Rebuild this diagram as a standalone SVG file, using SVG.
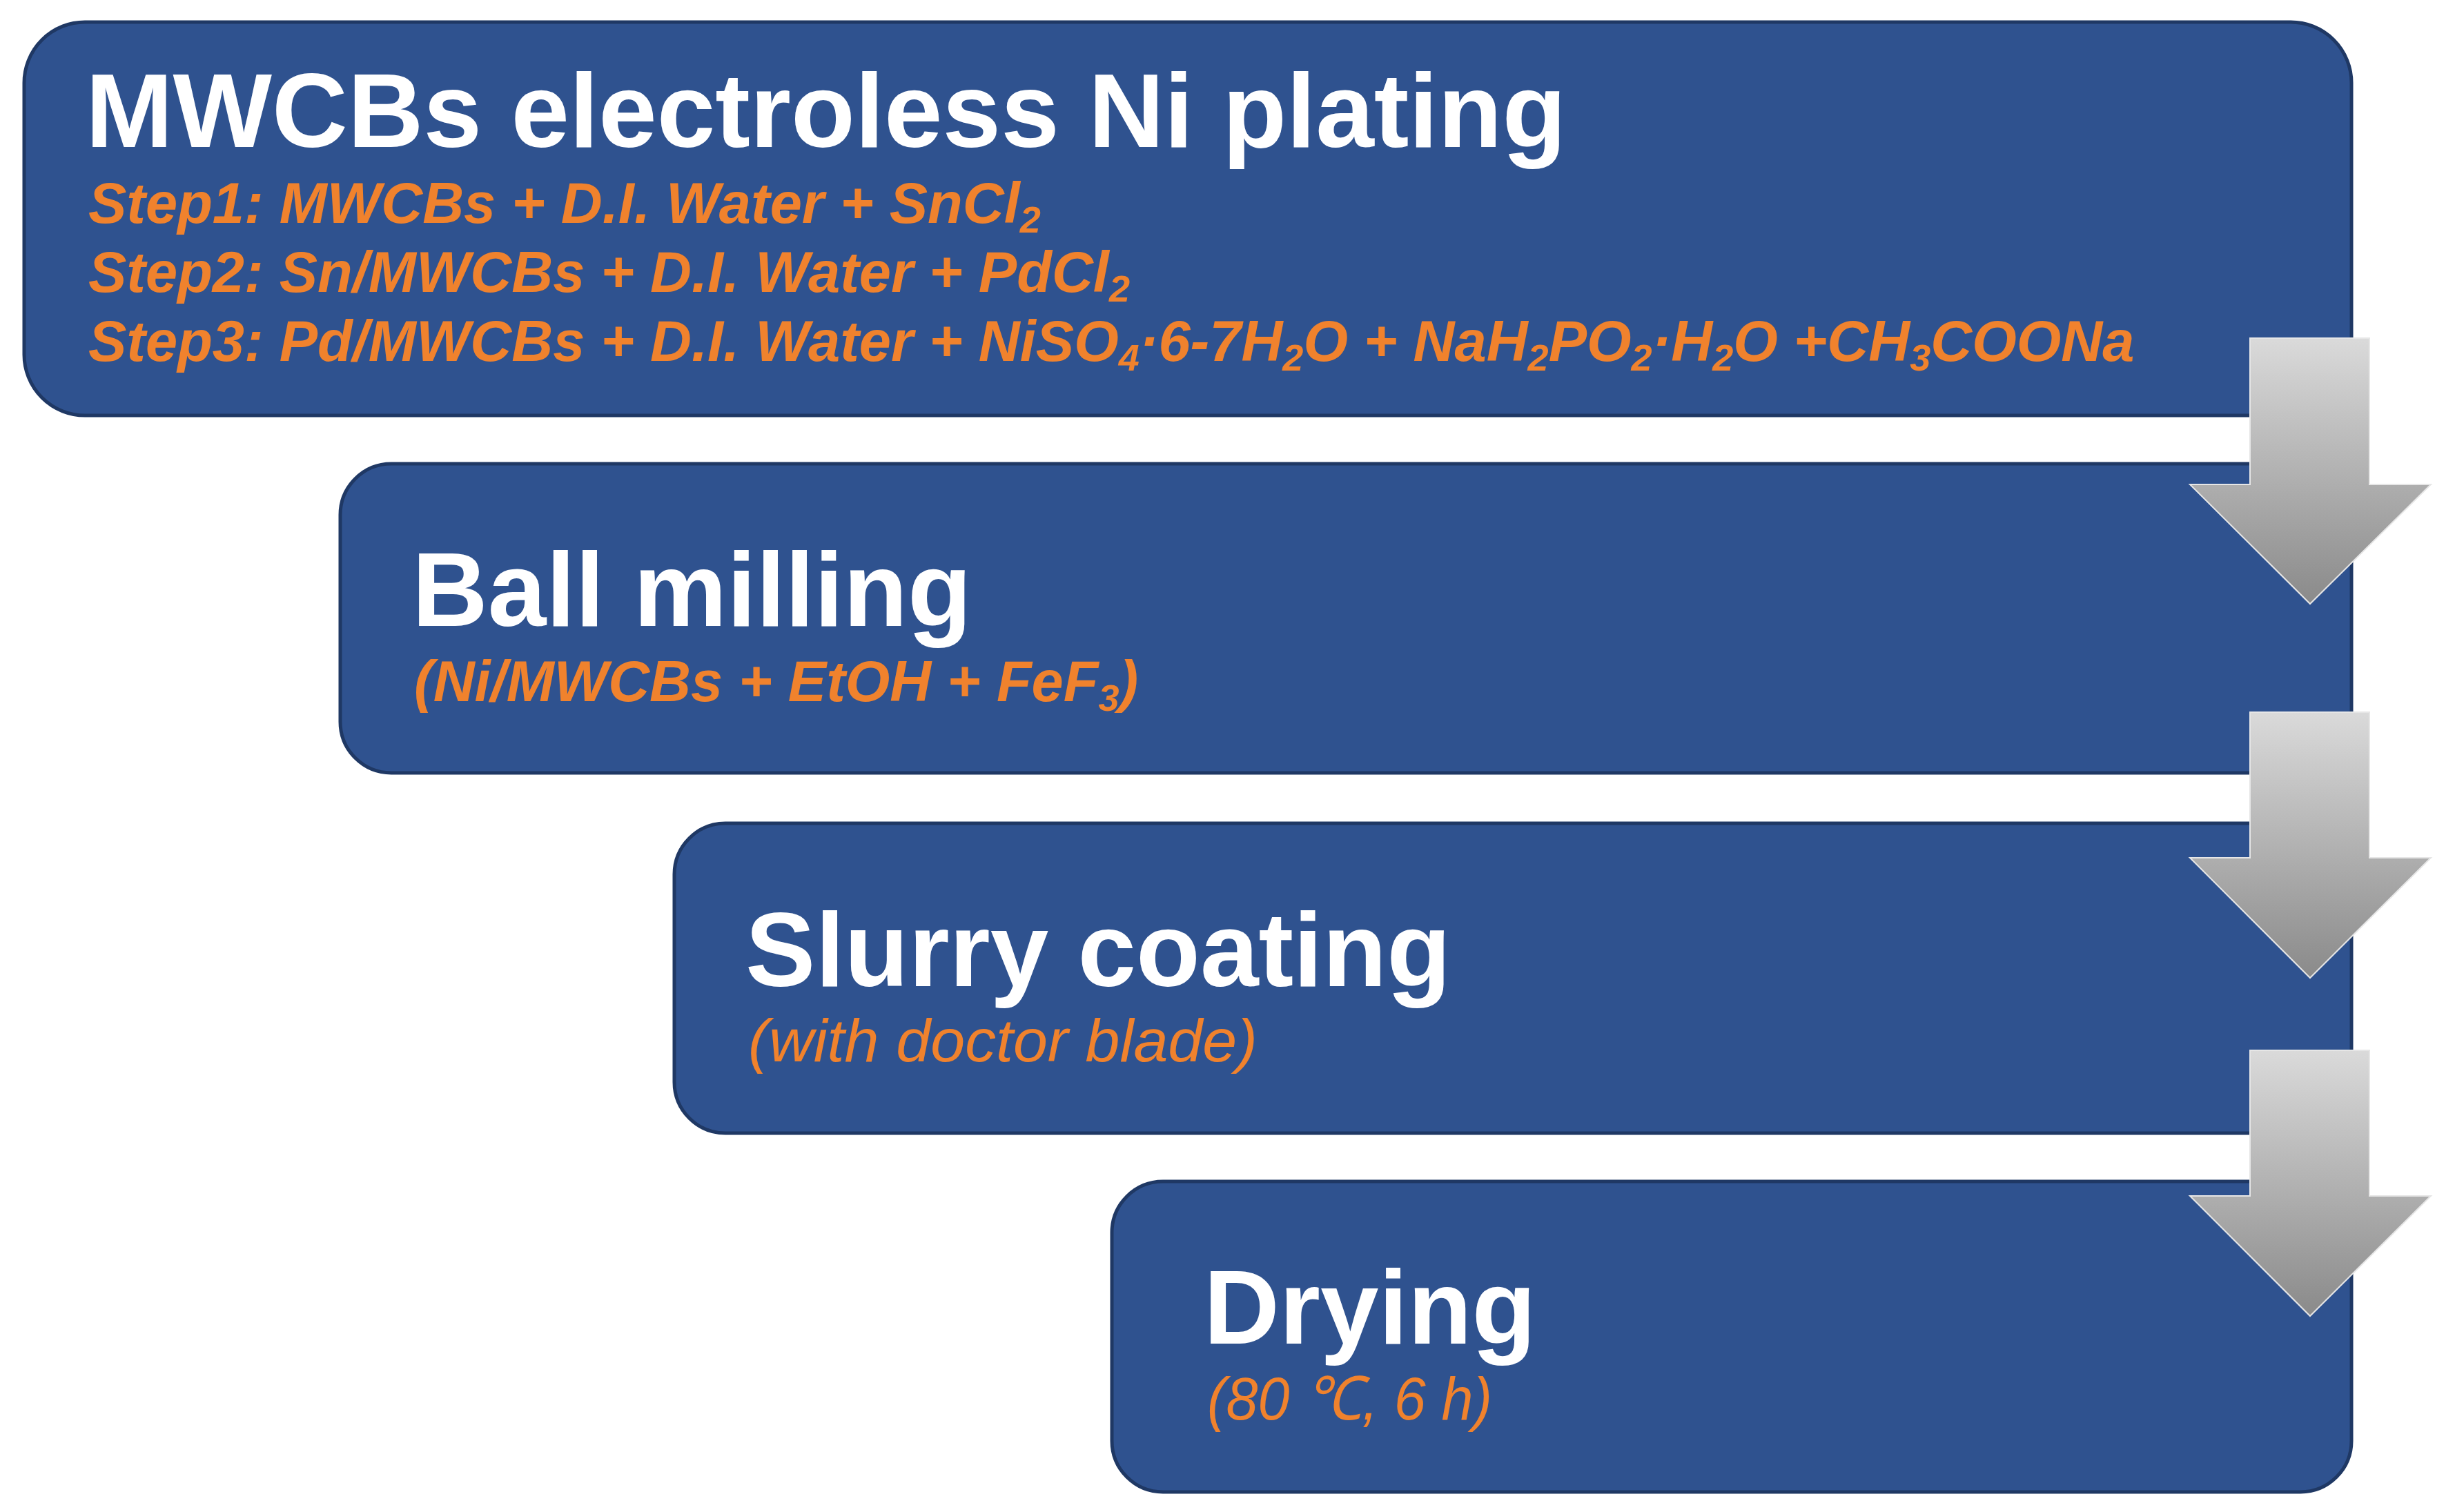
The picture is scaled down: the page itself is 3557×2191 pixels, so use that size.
<svg xmlns="http://www.w3.org/2000/svg" width="3557" height="2191" viewBox="0 0 3557 2191">
<style>
.box{fill:#2F528F;stroke:#1F3864;stroke-width:5}
.title{font-family:"Liberation Sans",Arial,sans-serif;font-weight:bold;font-size:152px;fill:#FFFFFF}
.sub{font-family:"Liberation Sans",Arial,sans-serif;font-weight:bold;font-style:italic;font-size:83px;fill:#F0822D}
.subn{font-family:"Liberation Sans",Arial,sans-serif;font-style:italic;font-size:88px;fill:#F0822D}
.arrow{fill:url(#ag);stroke:#E6E6E6;stroke-width:2}
</style>
<defs>
<linearGradient id="ag" x1="0" y1="0" x2="0" y2="1">
<stop offset="0" stop-color="#DADADA"/>
<stop offset="1" stop-color="#8A8A8A"/>
</linearGradient>
</defs>
<rect width="3557" height="2191" fill="#FFFFFF"/>
<g id="node-plating">
<rect class="box" x="35" y="32" width="3372" height="570" rx="88" ry="88"/>
<text class="title" x="124" y="213">MWCBs electroless Ni plating</text>
<text class="sub" x="128" y="323">Step1: MWCBs + D.I. Water + SnCl<tspan font-size="54" dy="14">2</tspan></text>
<text class="sub" x="128" y="423">Step2: Sn/MWCBs + D.I. Water + PdCl<tspan font-size="54" dy="14">2</tspan></text>
<text class="sub" x="128" y="523">Step3: Pd/MWCBs + D.I. Water + NiSO<tspan font-size="54" dy="14">4</tspan><tspan dy="-14">·6-7H</tspan><tspan font-size="54" dy="14">2</tspan><tspan dy="-14">O + NaH</tspan><tspan font-size="54" dy="14">2</tspan><tspan dy="-14">PO</tspan><tspan font-size="54" dy="14">2</tspan><tspan dy="-14">·H</tspan><tspan font-size="54" dy="14">2</tspan><tspan dy="-14">O +CH</tspan><tspan font-size="54" dy="14">3</tspan><tspan dy="-14">COONa</tspan></text>
</g>
<g id="node-ballmilling">
<rect class="box" x="493" y="672" width="2914" height="448" rx="74" ry="74"/>
<text class="title" x="597" y="907">Ball milling</text>
<text class="sub" x="600" y="1016">(Ni/MWCBs + EtOH + FeF<tspan font-size="54" dy="14">3</tspan><tspan dy="-14">)</tspan></text>
</g>
<g id="node-slurry">
<rect class="box" x="977" y="1193" width="2430" height="449" rx="74" ry="74"/>
<text class="title" x="1080" y="1429">Slurry coating</text>
<text class="subn" x="1084" y="1538" textLength="738" lengthAdjust="spacingAndGlyphs">(with doctor blade)</text>
</g>
<g id="node-drying">
<rect class="box" x="1611" y="1712" width="1796" height="450" rx="74" ry="74"/>
<text class="title" x="1744" y="1947">Drying</text>
<text class="subn" x="1749" y="2057" textLength="413" lengthAdjust="spacingAndGlyphs">(80 ℃, 6 h)</text>
</g>
<g id="connectors">
<path class="arrow" d="M3260,490 H3433 V702 H3522 L3347,875 L3173,702 H3260 Z"/>
<path class="arrow" d="M3260,1032 H3433 V1243 H3522 L3347,1417 L3173,1243 H3260 Z"/>
<path class="arrow" d="M3260,1522 H3433 V1733 H3522 L3347,1907 L3173,1733 H3260 Z"/>
</g>
</svg>
